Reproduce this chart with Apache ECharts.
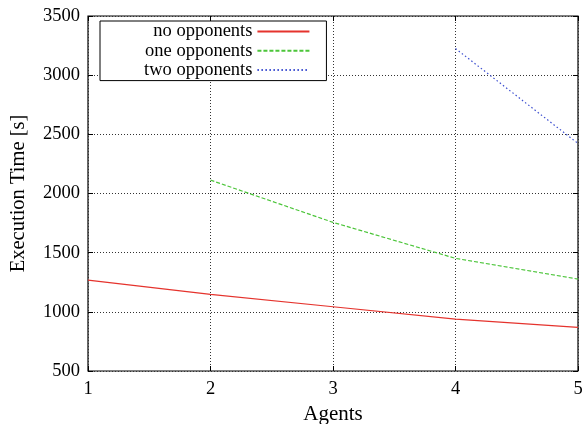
<!DOCTYPE html>
<html>
<head>
<meta charset="utf-8">
<script src="https://cdn.jsdelivr.net/npm/echarts@6/dist/echarts.min.js"></script>
<style>
  html, body { margin: 0; padding: 0; background: #fff; }
  #chart { width: 582px; height: 424px; }
</style>
</head>
<body>
<div id="chart"></div>
<script>
// values
const agents = [1, 2, 3, 4, 5];
const noOpponents = [1268, 1148, 1043, 939, 869];
const oneOpponents = [null, 2113, 1756, 1452, 1277];
const twoOpponents = [null, null, null, 3225, 2423];
const seriesNames = ["no opponents", "one opponents", "two opponents"];

const FONT = "'Liberation Serif', 'DejaVu Serif', serif";

function pairs(vals) {
  let out = [];
  for (let i = 0; i < agents.length; i++) {
    if (vals[i] != null) out.push([agents[i], vals[i]]);
  }
  return out;
}

var myChart = echarts.init(document.getElementById("chart"));

const gridLine = { show: true, lineStyle: { color: "#333", width: 1, type: [1, 2] } };
const tick = { show: true, inside: true, length: 5, lineStyle: { color: "#000" } };

var option = {
  animation: false,
  backgroundColor: "#fff",
  grid: {
    left: 88, right: 4, top: 16, bottom: 53,
    outerBoundsMode: "none",
    containLabel: false,
    show: true, borderColor: "#000", borderWidth: 1.2,
  },
  legend: {
    orient: "vertical",
    left: 100,
    top: 21,
    align: "right",
    data: seriesNames,
    itemWidth: 52,
    itemHeight: 14,
    itemGap: 0.3,
    padding: [1, 16, 1, 44],
    backgroundColor: "#fff",
    borderColor: "#000",
    borderWidth: 1,
    borderRadius: 0,
    itemStyle: { opacity: 0 },
    textStyle: { fontFamily: FONT, fontSize: 18.5, color: "#000", lineHeight: 19 },
  },
  xAxis: [
    {
      type: "value", min: 1, max: 5, interval: 1,
      name: "Agents", nameLocation: "middle", nameGap: 30,
      nameTextStyle: { fontFamily: FONT, fontSize: 21, color: "#000" },
      axisLine: { show: false },
      axisTick: tick,
      axisLabel: { fontFamily: FONT, fontSize: 18.5, color: "#000", margin: 9 },
      splitLine: gridLine,
    },
    {
      type: "value", min: 1, max: 5, interval: 1, position: "top",
      axisLine: { show: false },
      axisTick: tick,
      axisLabel: { show: false },
      splitLine: { show: false },
    },
  ],
  yAxis: [
    {
      type: "value", min: 500, max: 3500, interval: 500,
      name: "Execution Time [s]", nameLocation: "middle", nameGap: 59,
      nameTextStyle: { fontFamily: FONT, fontSize: 20.5, color: "#000" },
      axisLine: { show: false },
      axisTick: tick,
      axisLabel: {
        fontFamily: FONT, fontSize: 18.5, color: "#000", margin: 8,
        formatter: (v) => String(v),
      },
      splitLine: gridLine,
    },
    {
      type: "value", min: 500, max: 3500, interval: 500, position: "right",
      axisLine: { show: false },
      axisTick: tick,
      axisLabel: { show: false },
      splitLine: { show: false },
    },
  ],
  series: [
    {
      name: seriesNames[0], type: "line", symbol: "none",
      data: pairs(noOpponents),
      itemStyle: { color: "#e5332d" },
      lineStyle: { color: "#e5332d", width: 1.2, type: "solid" },
    },
    {
      name: seriesNames[1], type: "line", symbol: "none",
      data: pairs(oneOpponents),
      itemStyle: { color: "#4cc53a" },
      lineStyle: { color: "#4cc53a", width: 1.2, type: [4, 2] },
    },
    {
      name: seriesNames[2], type: "line", symbol: "none",
      data: pairs(twoOpponents),
      itemStyle: { color: "#3d4fd0" },
      lineStyle: { color: "#3d4fd0", width: 1.2, type: [1.5, 2.5] },
    },
  ],
};

option && myChart.setOption(option);
</script>
</body>
</html>
